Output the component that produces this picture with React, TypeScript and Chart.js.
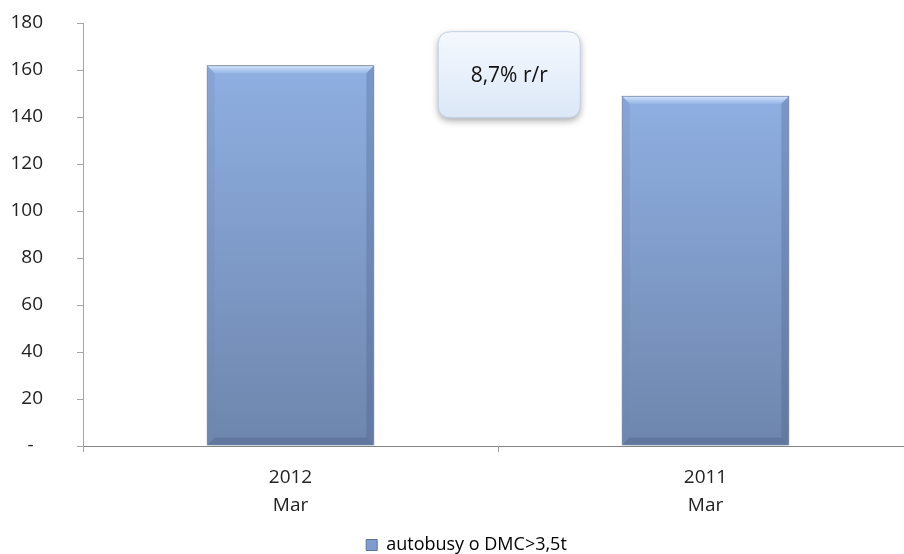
import React, { useEffect, useRef } from "react";
import { Chart, registerables } from "chart.js";

Chart.register(...registerables);

const CATEGORIES: string[][] = [["2012", "Mar"], ["2011", "Mar"]];
const SERIES_LABEL = "autobusy o DMC>3,5t";
const VALUES: number[] = [162, 149];
const Y_MIN = 0;
const Y_MAX = 180;
const Y_STEP = 20;
const ANNOTATION_TEXT = "8,7% r/r";
const ANNOTATION_AT: [number, number] = [0.527, 158]; // category units, value units

const FONT = "'Open Sans', 'DejaVu Sans', sans-serif";
const CW = 930;
const CH = 554;
const PAD = { top: 23, right: 17, left: 0, bottom: -10 };
const AREA_BOTTOM = 446;
const AXIS_LEFT = 83;

function roundRect(ctx: CanvasRenderingContext2D, x: number, y: number, w: number, h: number, r: number) {
  ctx.beginPath();
  ctx.moveTo(x + r, y);
  ctx.lineTo(x + w - r, y);
  ctx.quadraticCurveTo(x + w, y, x + w, y + r);
  ctx.lineTo(x + w, y + h - r);
  ctx.quadraticCurveTo(x + w, y + h, x + w - r, y + h);
  ctx.lineTo(x + r, y + h);
  ctx.quadraticCurveTo(x, y + h, x, y + h - r);
  ctx.lineTo(x, y + r);
  ctx.quadraticCurveTo(x, y, x + r, y);
  ctx.closePath();
}

const legendNudge = {
  id: "legendNudge",
  afterLayout(chart: any) {
    if (chart.legend) {
      chart.legend.left += 10;
      chart.legend.right += 10;
    }
  },
};

const barFx = {
  id: "barFx",
  beforeDatasetsDraw(chart: any) {
    const ctx = chart.ctx;
    ctx.save();
    ctx.shadowColor = "rgba(0,0,0,0.30)";
    ctx.shadowBlur = 7;
    ctx.shadowOffsetX = 0;
    ctx.shadowOffsetY = 0;
  },
  afterDatasetsDraw(chart: any) {
    const ctx = chart.ctx;
    ctx.restore();
    const meta = chart.getDatasetMeta(0);
    meta.data.forEach((el: any) => {
      const { x, y, base, width } = el.getProps(["x", "y", "base", "width"], true);
      const l = x - width / 2 + 1;
      const r = x + width / 2 - 1;
      const t = y + 1;
      const b = base - 1;
      const e = 7;
      ctx.save();
      const gt = ctx.createLinearGradient(0, t, 0, t + e);
      gt.addColorStop(0, "rgba(214,230,252,0.95)");
      gt.addColorStop(1, "rgba(165,195,240,0.5)");
      ctx.fillStyle = gt;
      ctx.beginPath();
      ctx.moveTo(l, t);
      ctx.lineTo(r, t);
      ctx.lineTo(r - e, t + e);
      ctx.lineTo(l + e, t + e);
      ctx.closePath();
      ctx.fill();
      ctx.fillStyle = "rgba(110,135,180,0.25)";
      ctx.beginPath();
      ctx.moveTo(l, t);
      ctx.lineTo(l + e, t + e);
      ctx.lineTo(l + e, b - e);
      ctx.lineTo(l, b);
      ctx.closePath();
      ctx.fill();
      ctx.fillStyle = "rgba(70,90,130,0.28)";
      ctx.beginPath();
      ctx.moveTo(r, t);
      ctx.lineTo(r - e, t + e);
      ctx.lineTo(r - e, b - e);
      ctx.lineTo(r, b);
      ctx.closePath();
      ctx.fill();
      ctx.fillStyle = "rgba(60,80,120,0.28)";
      ctx.beginPath();
      ctx.moveTo(l, b);
      ctx.lineTo(l + e, b - e);
      ctx.lineTo(r - e, b - e);
      ctx.lineTo(r, b);
      ctx.closePath();
      ctx.fill();
      ctx.restore();
    });
  },
};

const annotation = {
  id: "annotationBox",
  afterDraw(chart: any) {
    const ctx = chart.ctx;
    const cx = chart.scales.x.getPixelForValue(ANNOTATION_AT[0]);
    const cy = chart.scales.y.getPixelForValue(ANNOTATION_AT[1]);
    const w = 142;
    const h = 86;
    const x = cx - w / 2;
    const y = cy - h / 2;
    ctx.save();
    ctx.shadowColor = "rgba(0,0,0,0.35)";
    ctx.shadowBlur = 7;
    ctx.shadowOffsetY = 3;
    const g = ctx.createLinearGradient(0, y, 0, y + h);
    g.addColorStop(0, "#f5f9fe");
    g.addColorStop(1, "#dbe7f8");
    ctx.fillStyle = g;
    roundRect(ctx, x, y, w, h, 13);
    ctx.fill();
    ctx.shadowColor = "transparent";
    ctx.strokeStyle = "#c3d1e6";
    ctx.lineWidth = 1;
    ctx.stroke();
    ctx.fillStyle = "#111";
    ctx.font = `21px ${FONT}`;
    ctx.textAlign = "center";
    ctx.textBaseline = "middle";
    ctx.fillText(ANNOTATION_TEXT, cx, cy + 1);
    ctx.restore();
  },
};

export default function App() {
  const ref = useRef<HTMLCanvasElement | null>(null);
  useEffect(() => {
    if (!ref.current) return;
    const chart = new Chart(ref.current, {
      type: "bar",
      data: {
        labels: CATEGORIES,
        datasets: [
          {
            label: SERIES_LABEL,
            data: VALUES,
            backgroundColor: (c: any) => {
              const chart = c.chart;
              if (!chart.chartArea || c.raw === undefined) return "#8aa8d8";
              const ys = chart.scales.y;
              const top = ys.getPixelForValue(c.raw);
              const bot = ys.getPixelForValue(0);
              const g = chart.ctx.createLinearGradient(0, top, 0, bot);
              g.addColorStop(0, "#8fafe2");
              g.addColorStop(1, "#6e86ad");
              return g;
            },
            borderColor: "#61769c",
            borderWidth: 1,
            barPercentage: 0.404,
            categoryPercentage: 1,
          },
        ],
      },
      options: {
        responsive: false,
        animation: false,
        devicePixelRatio: 1,
        layout: { padding: PAD },
        plugins: {
          tooltip: { enabled: false },
          legend: {
            position: "bottom",
            labels: {
              font: { family: FONT, size: 18 },
              color: "#222",
              boxWidth: 11,
              boxHeight: 11,
              padding: 6,
              generateLabels: () => [
                {
                  text: SERIES_LABEL,
                  fillStyle: "#7f9cd0",
                  strokeStyle: "#5d7398",
                  lineWidth: 1,
                  datasetIndex: 0,
                  hidden: false,
                },
              ],
            },
          },
        },
        scales: {
          x: {
            grid: {
              offset: true,
              drawOnChartArea: false,
              drawTicks: true,
              tickLength: 6,
              color: "#a6a6a6",
            },
            border: { color: "#858585", width: 1 },
            ticks: {
              font: { family: FONT, size: 19, lineHeight: 1.5 },
              color: "#222",
              padding: 11,
              maxRotation: 0,
            },
            afterFit: (s: any) => {
              const lh = s.chart.legend ? s.chart.legend.height : 30;
              s.height = CH - PAD.bottom - AREA_BOTTOM - lh;
            },
          },
          y: {
            min: Y_MIN,
            max: Y_MAX,
            grid: {
              drawOnChartArea: false,
              drawTicks: true,
              tickLength: 6,
              color: "#a6a6a6",
            },
            border: { color: "#a6a6a6", width: 1 },
            ticks: {
              stepSize: Y_STEP,
              font: { family: FONT, size: 19 },
              color: "#222",
              padding: 34,
              callback: (v: any) => (Number(v) === 0 ? "-\u2002" : String(v)),
            },
            afterFit: (s: any) => {
              s.width = AXIS_LEFT - PAD.left;
              s.paddingTop = 12;
              s.paddingBottom = 12;
            },
          },
        },
      },
      plugins: [barFx, annotation, legendNudge],
    } as any);
    return () => chart.destroy();
  }, []);
  return (
    <div style={{ position: "fixed", left: 0, top: 0, width: 904, height: 554, overflow: "hidden", background: "#fff" }}>
      <canvas ref={ref} width={CW} height={CH} style={{ width: CW, height: CH, display: "block" }} />
    </div>
  );
}
